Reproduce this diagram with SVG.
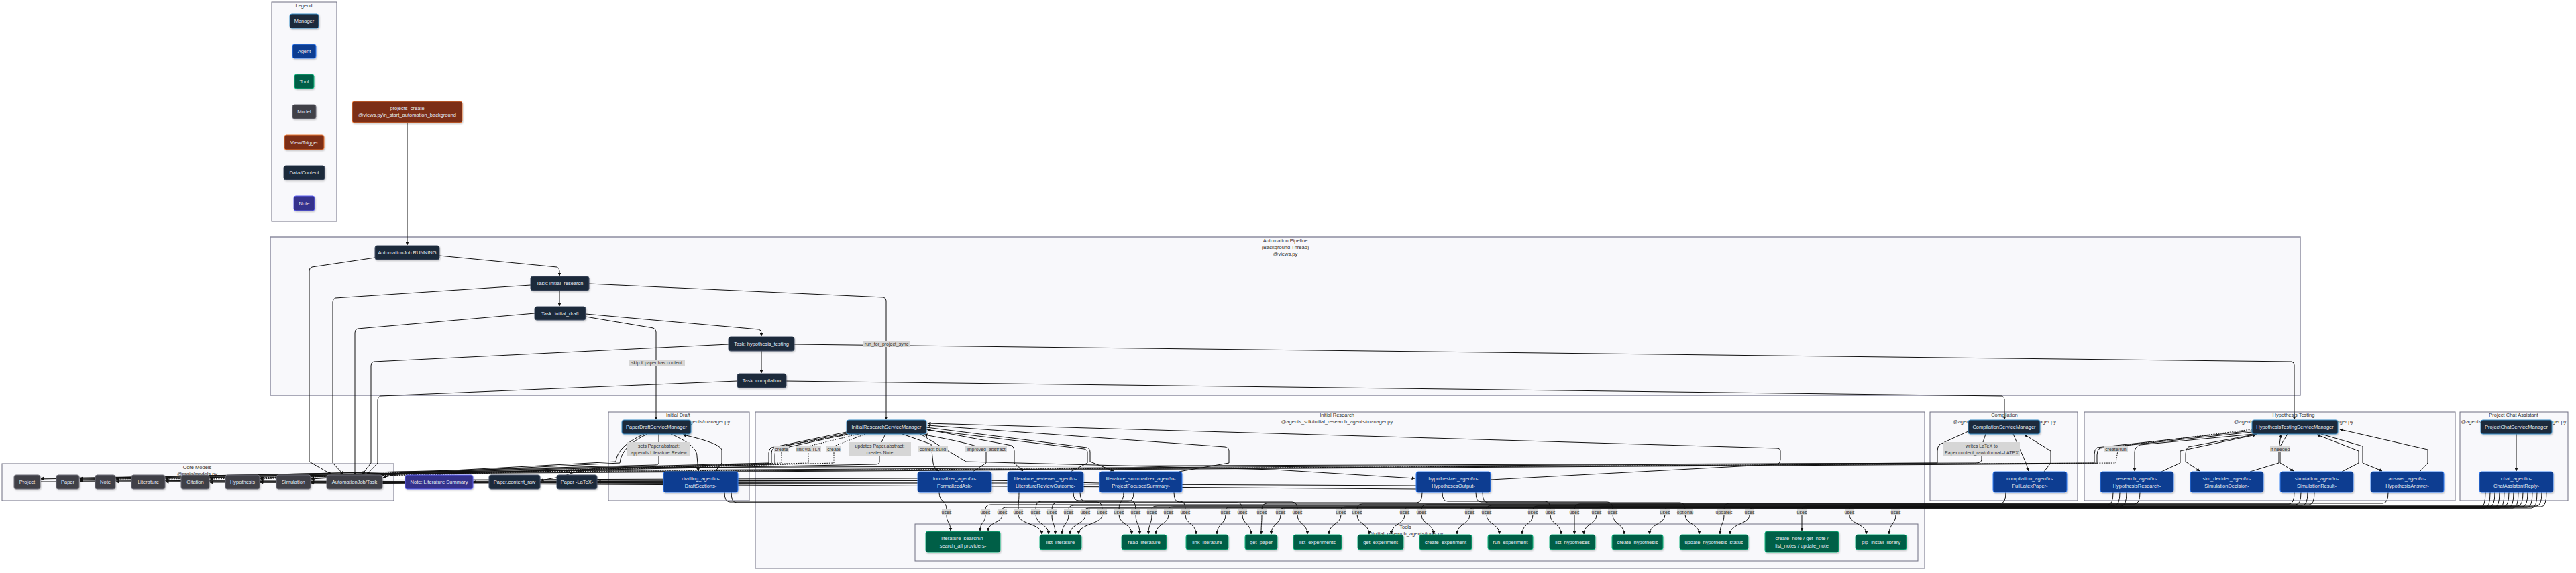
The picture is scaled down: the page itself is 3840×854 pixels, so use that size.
<svg xmlns="http://www.w3.org/2000/svg" width="3840" height="854" viewBox="0 0 3840 854">
<defs>
<marker id="ar" viewBox="0 0 10 10" refX="9" refY="5" markerWidth="5" markerHeight="5" orient="auto"><path d="M0,0L10,5L0,10z" fill="#111"/></marker>
<filter id="sh" x="-10%" y="-20%" width="120%" height="150%"><feDropShadow dx="1" dy="1.5" stdDeviation="1" flood-color="#000" flood-opacity="0.22"/></filter>
<style>
text{font-family:"Liberation Sans",Arial,sans-serif}
.cl{fill:#f8f8fb;stroke:#6e6e82;stroke-width:1}
.clp{fill:#f8f8fb;stroke:#85859a;stroke-width:1.4}
.ct{font-size:7.5px;fill:#333;text-anchor:middle}
.n rect{rx:3px;ry:3px;stroke-width:1;filter:url(#sh)}
.n text{font-size:7.5px;fill:#e6ebf2;text-anchor:middle;dominant-baseline:central}
.mgr rect{fill:#1e293b;stroke:#3b8ec8}
.agt rect{fill:#0f3d91;stroke:#3b82f6}
.tool rect{fill:#065f46;stroke:#10b981}
.mdl rect{fill:#3f3f46;stroke:#71717a}
.view rect{fill:#7c2d12;stroke:#ea7a3a}
.data rect{fill:#1e293b;stroke:#475569}
.note rect{fill:#35308c;stroke:#6366f1}
.e{fill:none;stroke:#111;stroke-width:1}
.a{marker-end:url(#ar)}
.d{stroke-dasharray:2 1.5}
.el rect{fill:#d6d6d6}
.el text{font-size:7px;fill:#333;text-anchor:middle;dominant-baseline:central}
</style>
</defs>
<rect width="3840" height="854" fill="#ffffff"/>

<g id="clusters">
<rect class="cl" x="405" y="3" width="97" height="327"/>
<text class="ct" x="453" y="11">Legend</text>
<rect class="clp" x="403" y="353" width="3026" height="236"/>
<text class="ct" x="1916" y="361">Automation Pipeline</text>
<text class="ct" x="1916" y="371">(Background Thread)</text>
<text class="ct" x="1916" y="381">@views.py</text>
<rect class="cl" x="3" y="691" width="584" height="55"/>
<text class="ct" x="294" y="699">Core Models</text>
<text class="ct" x="294" y="709">@main/models.py</text>
<rect class="cl" x="907" y="614" width="210" height="132"/>
<text class="ct" x="1011" y="621">Initial Draft</text>
<text class="ct" x="1011" y="631">@agents_sdk/paper_draft_agents/manager.py</text>
<rect class="cl" x="1126" y="614" width="1743" height="233"/>
<text class="ct" x="1993" y="621">Initial Research</text>
<text class="ct" x="1993" y="631">@agents_sdk/initial_research_agents/manager.py</text>
<rect class="cl" x="1364" y="781" width="1495" height="55"/>
<text class="ct" x="2095" y="788">Tools</text>
<text class="ct" x="2095" y="798">@initial_research_agents/tools.py</text>
<rect class="cl" x="2877" y="614" width="220" height="132"/>
<text class="ct" x="2988" y="621">Compilation</text>
<text class="ct" x="2988" y="631">@agents_sdk/compilation_agents/manager.py</text>
<rect class="cl" x="3107" y="614" width="553" height="132"/>
<text class="ct" x="3419" y="621">Hypothesis Testing</text>
<text class="ct" x="3419" y="631">@agents_sdk/hypothesis_testing_agents/manager.py</text>
<rect class="cl" x="3667" y="614" width="161" height="132"/>
<text class="ct" x="3747" y="621">Project Chat Assistant</text>
<text class="ct" x="3747" y="631">@agents_sdk/project_chat_agents/manager.py</text>
</g>

<g id="connectors">
<!-- pipeline -->
<path class="e a" d="M607,183L607,365"/>
<path class="e a" d="M655,381L830,398Q834,399 834,404L834,411"/>
<path class="e a" d="M834,433L834,456"/>
<path class="e a" d="M873,468L1131,491Q1135,492 1135,496L1135,501"/>
<path class="e a" d="M1135,523L1135,556"/>
<path class="e a" d="M559,384L465,398Q461,399 461,404L461,688L494,707"/>
<path class="e a" d="M791,425L500,444Q496,445 496,450L496,690L512,707"/>
<path class="e a" d="M797,467L533,490Q529,491 529,496L529,707"/>
<path class="e a" d="M1086,513L557,539Q553,540 553,545L553,690L540,707"/>
<path class="e a" d="M1099,568L567,590Q563,591 563,596L563,690L547,707"/>
<path class="e a" d="M873,472L974,489Q978,491 978,495L978,625"/>
<path class="e a" d="M878,423L1317,443Q1321,444 1321,448L1321,625"/>
<path class="e a" d="M1184,513L3416,539Q3420,540 3420,544L3420,625"/>
<path class="e a" d="M1172,568L2984,590Q2988,591 2988,595L2988,625"/>
<!-- core model chain -->
<path class="e" d="M84,718L61,718"/>
<path class="e" d="M142,718L119,718"/>
<path class="e a" d="M196,718L173,718"/>
<path class="e a" d="M270,718L247,718"/>
<path class="e" d="M336,718L313,718"/>
<path class="e a" d="M412,718L388,718"/>
<path class="e a" d="M487,718L464,718"/>
<!-- managers to models (upper band) -->
<path class="e a" d="M982,647L982,690Q982,693 976,693L600,703L119,713"/>
<path class="e a" d="M960,647Q920,665 918,688L600,705L61,713"/>
<path class="e a" d="M965,647Q926,665 924,690L600,706L247,713"/>
<path class="e a" d="M1262,644L1150,667Q1146,669 1146,675L1146,690L600,704L571,712"/>
<path class="e a" d="M1262,646L1153,668Q1150,670 1150,677L1150,691L600,705L119,714"/>
<path class="e a" d="M1264,647L1158,670Q1155,672 1155,679L1155,692L600,707L388,713"/>
<path class="e a d" d="M1270,647L1165,665L1165,690L600,708L247,714"/>
<path class="e a d" d="M1280,647L1205,665L1205,690L600,708L313,714"/>
<path class="e a d" d="M1290,647L1243,665L1243,690L600,709L173,714"/>
<path class="e a" d="M1320,647L1311,665L1311,688Q1311,692 1305,692L600,706L119,715"/>
<path class="e a" d="M2960,647L2954,665L2954,685Q2954,690 2945,690L900,697Q860,700 840,710L806,716"/>
<path class="e a" d="M2934,643L2892,662Q2888,665 2888,672L2888,690L600,703L61,714"/>
<path class="e a d" d="M3357,640L3158,665L3154,690L600,704L388,714"/>
<path class="e a" d="M3357,642L3126,667Q3122,670 3122,677L3122,690L600,705L464,714"/>
<path class="e a" d="M3357,644L3130,668Q3126,671 3126,678L3126,691L600,706L464,713"/>
<!-- agents to models -->
<path class="e a" d="M989,718L891,718"/>
<path class="e a" d="M1639,720L1480,716L706,718"/>
<path class="e a" d="M1368,713L119,717"/>
<path class="e a" d="M1502,716L247,718"/>
<path class="e a" d="M1502,720L313,719"/>
<path class="e a" d="M2111,724L1700,722L388,719"/>
<path class="e a" d="M2111,729L1700,726L464,720"/>
<!-- initial draft -->
<path class="e a" d="M1000,647C1030,660 1039,670 1039,680L1041,702"/>
<path class="e a" d="M1066,703L1076,690L1076,670Q1072,660 1018,648"/>
<!-- initial research -->
<path class="e a" d="M1345,647L1388,662L1391,690Q1392,697 1400,702"/>
<path class="e a" d="M1450,703L1470,690L1470,672Q1466,664 1378,648"/>
<path class="e a" d="M1381,640L1508,664Q1512,666 1512,672L1512,690L1525,702"/>
<path class="e a" d="M1381,637L1620,667Q1625,668 1625,674L1625,688L1660,702"/>
<path class="e a" d="M1596,703L1621,690L1621,674Q1621,670 1616,669L1383,641"/>
<path class="e a" d="M1757,703L1832,690L1832,672Q1832,667 1826,666L1383,634"/>
<path class="e a" d="M2222,715L2650,692Q2654,690 2654,685L2654,672Q2654,668 2648,668L1383,631"/>
<path class="e a" d="M1372,647L1440,688L1900,700L2109,713"/>
<!-- compilation -->
<path class="e a" d="M3001,647L3020,690L3024,702"/>
<path class="e a" d="M3047,703L3057,690L3057,672L3018,648"/>
<!-- hypothesis testing -->
<path class="e a" d="M3360,647L3190,663Q3182,666 3182,674L3182,702"/>
<path class="e a" d="M3222,703L3250,690L3250,672L3363,648"/>
<path class="e a" d="M3365,647L3262,666Q3258,669 3258,676L3258,688L3279,702"/>
<path class="e a" d="M3354,703L3397,690L3397,670L3400,648"/>
<path class="e a" d="M3410,647L3399,665L3399,690L3419,702"/>
<path class="e a" d="M3491,703L3516,690L3516,672L3454,648"/>
<path class="e a" d="M3460,647L3522,665L3522,690L3551,702"/>
<path class="e a" d="M3607,703L3619,690L3619,670L3488,640"/>
<!-- chat -->
<path class="e a" d="M3751,647L3751,702"/>
<!-- tool usage -->
<path class="e" d="M1400,734C1400,748 1411,746 1411,759"/>
<path class="e a" d="M1411,767C1411,780 1417,778 1417,791"/>
<path class="e" d="M3150,734Q3150,752 3142,752L1477,752Q1469,752 1469,759"/>
<path class="e a" d="M1469,767C1469,780 1461,778 1461,791"/>
<path class="e" d="M3705,734Q3705,756 3697,756L1502,756Q1494,756 1494,759"/>
<path class="e a" d="M1494,767C1494,780 1473,778 1473,791"/>
<path class="e" d="M1519,734C1519,748 1518,746 1518,759"/>
<path class="e a" d="M1518,767C1518,782 1553,780 1553,796"/>
<path class="e" d="M1690,734Q1690,747 1682,747L1552,747Q1544,747 1544,759"/>
<path class="e a" d="M1544,767C1544,782 1563,780 1563,796"/>
<path class="e" d="M2120,734Q2120,749 2112,749L1576,749Q1568,749 1568,759"/>
<path class="e a" d="M1568,767C1568,782 1573,780 1573,796"/>
<path class="e" d="M3160,734Q3160,753 3152,753L1601,753Q1593,753 1593,759"/>
<path class="e a" d="M1593,767C1593,782 1583,780 1583,796"/>
<path class="e" d="M3712,734Q3712,757 3704,757L1626,757Q1618,757 1618,759"/>
<path class="e a" d="M1618,767C1618,782 1595,780 1595,796"/>
<path class="e" d="M1080,734Q1080,748 1088,748L1635,748Q1643,748 1643,759"/>
<path class="e a" d="M1643,767C1643,782 1608,780 1608,796"/>
<path class="e" d="M1675,734C1675,748 1668,746 1668,759"/>
<path class="e a" d="M1668,767C1668,782 1687,780 1687,796"/>
<path class="e" d="M1600,734Q1600,746 1608,746L1685,746Q1693,746 1693,759"/>
<path class="e a" d="M1693,767C1693,782 1699,780 1699,796"/>
<path class="e" d="M3170,734Q3170,754 3162,754L1725,754Q1717,754 1717,759"/>
<path class="e a" d="M1717,767C1717,782 1712,780 1712,796"/>
<path class="e" d="M3719,734Q3719,755 3711,755L1750,755Q1742,755 1742,759"/>
<path class="e a" d="M1742,767C1742,782 1723,780 1723,796"/>
<path class="e" d="M1610,734Q1610,747 1618,747L1759,747Q1767,747 1767,759"/>
<path class="e a" d="M1767,767C1767,782 1783,780 1783,796"/>
<path class="e" d="M3726,734Q3726,756 3718,756L1835,756Q1827,756 1827,759"/>
<path class="e a" d="M1827,767C1827,782 1814,780 1814,796"/>
<path class="e" d="M1090,734Q1090,749 1098,749L1844,749Q1852,749 1852,759"/>
<path class="e a" d="M1852,767C1852,782 1865,780 1865,796"/>
<path class="e" d="M2990,734Q2990,750 2982,750L1889,750Q1881,750 1881,759"/>
<path class="e a" d="M1881,767C1881,782 1880,780 1880,796"/>
<path class="e" d="M3733,734Q3733,757 3725,757L1917,757Q1909,757 1909,759"/>
<path class="e a" d="M1909,767C1909,782 1895,780 1895,796"/>
<path class="e" d="M1750,734Q1750,748 1758,748L1926,748Q1934,748 1934,759"/>
<path class="e a" d="M1934,767C1934,782 1949,780 1949,796"/>
<path class="e" d="M3740,734Q3740,755 3732,755L2007,755Q1999,755 1999,759"/>
<path class="e a" d="M1999,767C1999,782 1981,780 1981,796"/>
<path class="e" d="M3420,734Q3420,751 3412,751L2031,751Q2023,751 2023,759"/>
<path class="e a" d="M2023,767C2023,782 2041,780 2041,796"/>
<path class="e" d="M3747,734Q3747,756 3739,756L2102,756Q2094,756 2094,759"/>
<path class="e a" d="M2094,767C2094,782 2074,780 2074,796"/>
<path class="e" d="M3430,734Q3430,752 3422,752L2127,752Q2119,752 2119,759"/>
<path class="e a" d="M2119,767C2119,782 2137,780 2137,796"/>
<path class="e" d="M3754,734Q3754,757 3746,757L2199,757Q2191,757 2191,759"/>
<path class="e a" d="M2191,767C2191,782 2172,780 2172,796"/>
<path class="e" d="M3440,734Q3440,753 3432,753L2224,753Q2216,753 2216,759"/>
<path class="e a" d="M2216,767C2216,782 2235,780 2235,796"/>
<path class="e" d="M3761,734Q3761,754 3753,754L2293,754Q2285,754 2285,759"/>
<path class="e a" d="M2285,767C2285,782 2269,780 2269,796"/>
<path class="e" d="M2150,734Q2150,747 2158,747L2303,747Q2311,747 2311,759"/>
<path class="e a" d="M2311,767C2311,782 2327,780 2327,796"/>
<path class="e" d="M3190,734Q3190,751 3182,751L2355,751Q2347,751 2347,759"/>
<path class="e a" d="M2347,767L2347,796"/>
<path class="e" d="M3768,734Q3768,755 3760,755L2388,755Q2380,755 2380,759"/>
<path class="e a" d="M2380,767C2380,782 2361,780 2361,796"/>
<path class="e" d="M2200,734Q2200,748 2208,748L2396,748Q2404,748 2404,759"/>
<path class="e a" d="M2404,767C2404,782 2421,780 2421,796"/>
<path class="e" d="M3775,734Q3775,756 3767,756L2490,756Q2482,756 2482,759"/>
<path class="e a" d="M2482,767C2482,782 2459,780 2459,796"/>
<path class="e" d="M2210,734Q2210,749 2218,749L2504,749Q2512,749 2512,759"/>
<path class="e a" d="M2512,767C2512,782 2533,780 2533,796"/>
<path class="e" d="M3560,734Q3560,750 3552,750L2578,750Q2570,750 2570,759"/>
<path class="e a" d="M2570,767C2570,782 2564,780 2564,796"/>
<path class="e" d="M3782,734Q3782,757 3774,757L2616,757Q2608,757 2608,759"/>
<path class="e a" d="M2608,767C2608,782 2579,780 2579,796"/>
<path class="e" d="M3789,734Q3789,754 3781,754L2694,754Q2686,754 2686,759"/>
<path class="e a" d="M2686,767L2686,791"/>
<path class="e" d="M3450,734Q3450,752 3442,752L2765,752Q2757,752 2757,759"/>
<path class="e a" d="M2757,767C2757,782 2782,780 2782,796"/>
<path class="e" d="M3796,734Q3796,755 3788,755L2834,755Q2826,755 2826,759"/>
<path class="e a" d="M2826,767C2826,782 2816,780 2816,796"/>
</g>

<g id="edge-labels">
<g class="el"><rect x="937" y="536" width="84" height="9"/><text x="979" y="540.5">skip if paper has content</text></g>
<g class="el"><rect x="1287" y="508" width="69" height="9"/><text x="1321.5" y="512.5">run_for_project_sync</text></g>
<g class="el"><rect x="935" y="659" width="94" height="20"/><text x="982" y="664.5">sets Paper.abstract;</text><text x="982" y="674">appends Literature Review</text></g>
<g class="el"><rect x="1154" y="665" width="22" height="9"/><text x="1165" y="669.5">create</text></g>
<g class="el"><rect x="1186" y="665" width="38" height="9"/><text x="1205" y="669.5">link via TL4</text></g>
<g class="el"><rect x="1232" y="665" width="22" height="9"/><text x="1243" y="669.5">create</text></g>
<g class="el"><rect x="1265" y="659" width="93" height="20"/><text x="1311.5" y="664.5">updates Paper.abstract;</text><text x="1311.5" y="674">creates Note</text></g>
<g class="el"><rect x="1368" y="665" width="45" height="9"/><text x="1390.5" y="669.5">context build</text></g>
<g class="el"><rect x="1439" y="665" width="62" height="9"/><text x="1470" y="669.5">improved_abstract</text></g>
<g class="el"><rect x="2897" y="659" width="114" height="21"/><text x="2954" y="664.5">writes LaTeX to</text><text x="2954" y="674.5">Paper.content_raw\nformat=LATEX</text></g>
<g class="el"><rect x="3136" y="665" width="36" height="9"/><text x="3154" y="669.5">create/run</text></g>
<g class="el"><rect x="3384" y="665" width="30" height="9"/><text x="3399" y="669.5">if needed</text></g>
<g class="el"><rect x="1404" y="759" width="14" height="8"/><text x="1411" y="763">uses</text></g>
<g class="el"><rect x="1462" y="759" width="14" height="8"/><text x="1469" y="763">uses</text></g>
<g class="el"><rect x="1487" y="759" width="14" height="8"/><text x="1494" y="763">uses</text></g>
<g class="el"><rect x="1511" y="759" width="14" height="8"/><text x="1518" y="763">uses</text></g>
<g class="el"><rect x="1537" y="759" width="14" height="8"/><text x="1544" y="763">uses</text></g>
<g class="el"><rect x="1561" y="759" width="14" height="8"/><text x="1568" y="763">uses</text></g>
<g class="el"><rect x="1586" y="759" width="14" height="8"/><text x="1593" y="763">uses</text></g>
<g class="el"><rect x="1611" y="759" width="14" height="8"/><text x="1618" y="763">uses</text></g>
<g class="el"><rect x="1636" y="759" width="14" height="8"/><text x="1643" y="763">uses</text></g>
<g class="el"><rect x="1661" y="759" width="14" height="8"/><text x="1668" y="763">uses</text></g>
<g class="el"><rect x="1686" y="759" width="14" height="8"/><text x="1693" y="763">uses</text></g>
<g class="el"><rect x="1710" y="759" width="14" height="8"/><text x="1717" y="763">uses</text></g>
<g class="el"><rect x="1735" y="759" width="14" height="8"/><text x="1742" y="763">uses</text></g>
<g class="el"><rect x="1760" y="759" width="14" height="8"/><text x="1767" y="763">uses</text></g>
<g class="el"><rect x="1820" y="759" width="14" height="8"/><text x="1827" y="763">uses</text></g>
<g class="el"><rect x="1845" y="759" width="14" height="8"/><text x="1852" y="763">uses</text></g>
<g class="el"><rect x="1874" y="759" width="14" height="8"/><text x="1881" y="763">uses</text></g>
<g class="el"><rect x="1902" y="759" width="14" height="8"/><text x="1909" y="763">uses</text></g>
<g class="el"><rect x="1927" y="759" width="14" height="8"/><text x="1934" y="763">uses</text></g>
<g class="el"><rect x="1992" y="759" width="14" height="8"/><text x="1999" y="763">uses</text></g>
<g class="el"><rect x="2016" y="759" width="14" height="8"/><text x="2023" y="763">uses</text></g>
<g class="el"><rect x="2087" y="759" width="14" height="8"/><text x="2094" y="763">uses</text></g>
<g class="el"><rect x="2112" y="759" width="14" height="8"/><text x="2119" y="763">uses</text></g>
<g class="el"><rect x="2184" y="759" width="14" height="8"/><text x="2191" y="763">uses</text></g>
<g class="el"><rect x="2209" y="759" width="14" height="8"/><text x="2216" y="763">uses</text></g>
<g class="el"><rect x="2278" y="759" width="14" height="8"/><text x="2285" y="763">uses</text></g>
<g class="el"><rect x="2304" y="759" width="14" height="8"/><text x="2311" y="763">uses</text></g>
<g class="el"><rect x="2340" y="759" width="14" height="8"/><text x="2347" y="763">uses</text></g>
<g class="el"><rect x="2373" y="759" width="14" height="8"/><text x="2380" y="763">uses</text></g>
<g class="el"><rect x="2397" y="759" width="14" height="8"/><text x="2404" y="763">uses</text></g>
<g class="el"><rect x="2475" y="759" width="14" height="8"/><text x="2482" y="763">uses</text></g>
<g class="el"><rect x="2500" y="759" width="24" height="8"/><text x="2512" y="763">optional</text></g>
<g class="el"><rect x="2559" y="759" width="22" height="8"/><text x="2570" y="763">updates</text></g>
<g class="el"><rect x="2601" y="759" width="14" height="8"/><text x="2608" y="763">uses</text></g>
<g class="el"><rect x="2679" y="759" width="14" height="8"/><text x="2686" y="763">uses</text></g>
<g class="el"><rect x="2750" y="759" width="14" height="8"/><text x="2757" y="763">uses</text></g>
<g class="el"><rect x="2819" y="759" width="14" height="8"/><text x="2826" y="763">uses</text></g>
</g>

<g id="legend-nodes">
<g id="lg-manager" class="n mgr"><rect x="432" y="21" width="43" height="21"/><text x="453.5" y="31.5">Manager</text></g>
<g id="lg-agent" class="n agt"><rect x="436" y="66" width="35" height="21"/><text x="453.5" y="76.5">Agent</text></g>
<g id="lg-tool" class="n tool"><rect x="439" y="111" width="29" height="21"/><text x="453.5" y="121.5">Tool</text></g>
<g id="lg-model" class="n mdl"><rect x="436" y="156" width="35" height="21"/><text x="453.5" y="166.5">Model</text></g>
<g id="lg-view" class="n view"><rect x="424" y="201" width="59" height="22"/><text x="453.5" y="212">View/Trigger</text></g>
<g id="lg-data" class="n data"><rect x="423" y="247" width="61" height="21"/><text x="453.5" y="257.5">Data/Content</text></g>
<g id="lg-note" class="n note"><rect x="438" y="292" width="31" height="22"/><text x="453.5" y="303">Note</text></g>
</g>

<g id="projects_create" class="n view"><rect x="525" y="151" width="164" height="32"/><text x="607" y="161.5">projects_create</text><text x="607" y="171.5">@views.py\n_start_automation_background</text></g>

<g id="pipeline-nodes">
<g id="job_running" class="n data"><rect x="559" y="366" width="96" height="21"/><text x="607" y="376.5">AutomationJob RUNNING</text></g>
<g id="task_initial_research" class="n data"><rect x="791" y="412" width="87" height="21"/><text x="834.5" y="422.5">Task: initial_research</text></g>
<g id="task_initial_draft" class="n data"><rect x="797" y="457" width="76" height="20"/><text x="835" y="467">Task: initial_draft</text></g>
<g id="task_hypothesis_testing" class="n data"><rect x="1086" y="502" width="98" height="21"/><text x="1135" y="512.5">Task: hypothesis_testing</text></g>
<g id="task_compilation" class="n data"><rect x="1099" y="557" width="73" height="21"/><text x="1135.5" y="567.5">Task: compilation</text></g>
</g>

<g id="model-nodes">
<g id="m_project" class="n mdl"><rect x="21" y="708" width="39" height="21"/><text x="40.5" y="718.5">Project</text></g>
<g id="m_paper" class="n mdl"><rect x="84" y="708" width="34" height="21"/><text x="101" y="718.5">Paper</text></g>
<g id="m_note" class="n mdl"><rect x="142" y="708" width="30" height="21"/><text x="157" y="718.5">Note</text></g>
<g id="m_literature" class="n mdl"><rect x="196" y="708" width="50" height="21"/><text x="221" y="718.5">Literature</text></g>
<g id="m_citation" class="n mdl"><rect x="270" y="708" width="42" height="21"/><text x="291" y="718.5">Citation</text></g>
<g id="m_hypothesis" class="n mdl"><rect x="336" y="708" width="51" height="21"/><text x="361.5" y="718.5">Hypothesis</text></g>
<g id="m_simulation" class="n mdl"><rect x="412" y="708" width="51" height="21"/><text x="437.5" y="718.5">Simulation</text></g>
<g id="m_job" class="n mdl"><rect x="487" y="708" width="83" height="21"/><text x="528.5" y="718.5">AutomationJob/Task</text></g>
<g id="note_lit_summary" class="n note"><rect x="604" y="708" width="101" height="21"/><text x="654.5" y="718.5">Note: Literature Summary</text></g>
<g id="paper_content_raw" class="n data"><rect x="729" y="708" width="76" height="21"/><text x="767" y="718.5">Paper.content_raw</text></g>
<g id="paper_latex" class="n data"><rect x="830" y="708" width="60" height="21"/><text x="860" y="718.5">Paper -LaTeX-</text></g>
</g>

<g id="manager-nodes">
<g id="pdsm" class="n mgr"><rect x="927" y="626" width="103" height="21"/><text x="978.5" y="636.5">PaperDraftServiceManager</text></g>
<g id="irsm" class="n mgr"><rect x="1262" y="626" width="119" height="21"/><text x="1321.5" y="636.5">InitialResearchServiceManager</text></g>
<g id="csm" class="n mgr"><rect x="2934" y="626" width="107" height="21"/><text x="2987.5" y="636.5">CompilationServiceManager</text></g>
<g id="htsm" class="n mgr"><rect x="3357" y="626" width="128" height="21"/><text x="3421" y="636.5">HypothesisTestingServiceManager</text></g>
<g id="pcsm" class="n mgr"><rect x="3698" y="626" width="106" height="21"/><text x="3751" y="636.5">ProjectChatServiceManager</text></g>
</g>

<g id="agent-nodes">
<g id="drafting_agent" class="n agt"><rect x="989" y="703" width="111" height="31"/><text x="1044.5" y="713.5">drafting_agent\n-</text><text x="1044.5" y="724">DraftSections-</text></g>
<g id="formalizer_agent" class="n agt"><rect x="1368" y="703" width="110" height="31"/><text x="1423" y="713.5">formalizer_agent\n-</text><text x="1423" y="724">FormalizedAsk-</text></g>
<g id="literature_reviewer_agent" class="n agt"><rect x="1502" y="703" width="113" height="31"/><text x="1558.5" y="713.5">literature_reviewer_agent\n-</text><text x="1558.5" y="724">LiteratureReviewOutcome-</text></g>
<g id="literature_summarizer_agent" class="n agt"><rect x="1639" y="703" width="123" height="31"/><text x="1700.5" y="713.5">literature_summarizer_agent\n-</text><text x="1700.5" y="724">ProjectFocusedSummary-</text></g>
<g id="hypothesizer_agent" class="n agt"><rect x="2111" y="703" width="111" height="31"/><text x="2166.5" y="713.5">hypothesizer_agent\n-</text><text x="2166.5" y="724">HypothesesOutput-</text></g>
<g id="compilation_agent" class="n agt"><rect x="2971" y="703" width="110" height="31"/><text x="3026" y="713.5">compilation_agent\n-</text><text x="3026" y="724">FullLatexPaper-</text></g>
<g id="research_agent" class="n agt"><rect x="3131" y="703" width="109" height="31"/><text x="3185.5" y="713.5">research_agent\n-</text><text x="3185.5" y="724">HypothesisResearch-</text></g>
<g id="sim_decider_agent" class="n agt"><rect x="3265" y="703" width="109" height="31"/><text x="3319.5" y="713.5">sim_decider_agent\n-</text><text x="3319.5" y="724">SimulationDecision-</text></g>
<g id="simulation_agent" class="n agt"><rect x="3399" y="703" width="109" height="31"/><text x="3453.5" y="713.5">simulation_agent\n-</text><text x="3453.5" y="724">SimulationResult-</text></g>
<g id="answer_agent" class="n agt"><rect x="3534" y="703" width="109" height="31"/><text x="3588.5" y="713.5">answer_agent\n-</text><text x="3588.5" y="724">HypothesisAnswer-</text></g>
<g id="chat_agent" class="n agt"><rect x="3696" y="703" width="110" height="31"/><text x="3751" y="713.5">chat_agent\n-</text><text x="3751" y="724">ChatAssistantReply-</text></g>
</g>

<g id="tool-nodes">
<g id="t_literature_search" class="n tool"><rect x="1380" y="792" width="111" height="31"/><text x="1435.5" y="802.5">literature_search\n-</text><text x="1435.5" y="813">search_all providers-</text></g>
<g id="t_list_literature" class="n tool"><rect x="1550" y="797" width="62" height="22"/><text x="1581" y="808">list_literature</text></g>
<g id="t_read_literature" class="n tool"><rect x="1672" y="797" width="67" height="22"/><text x="1705.5" y="808">read_literature</text></g>
<g id="t_link_literature" class="n tool"><rect x="1768" y="797" width="63" height="22"/><text x="1799.5" y="808">link_literature</text></g>
<g id="t_get_paper" class="n tool"><rect x="1856" y="797" width="48" height="22"/><text x="1880" y="808">get_paper</text></g>
<g id="t_list_experiments" class="n tool"><rect x="1928" y="797" width="72" height="22"/><text x="1964" y="808">list_experiments</text></g>
<g id="t_get_experiment" class="n tool"><rect x="2024" y="797" width="68" height="22"/><text x="2058" y="808">get_experiment</text></g>
<g id="t_create_experiment" class="n tool"><rect x="2116" y="797" width="78" height="22"/><text x="2155" y="808">create_experiment</text></g>
<g id="t_run_experiment" class="n tool"><rect x="2218" y="797" width="67" height="22"/><text x="2251.5" y="808">run_experiment</text></g>
<g id="t_list_hypotheses" class="n tool"><rect x="2310" y="797" width="68" height="22"/><text x="2344" y="808">list_hypotheses</text></g>
<g id="t_create_hypothesis" class="n tool"><rect x="2403" y="797" width="76" height="22"/><text x="2441" y="808">create_hypothesis</text></g>
<g id="t_update_hypothesis_status" class="n tool"><rect x="2504" y="797" width="102" height="22"/><text x="2555" y="808">update_hypothesis_status</text></g>
<g id="t_notes" class="n tool"><rect x="2631" y="792" width="110" height="31"/><text x="2686" y="802.5">create_note / get_note /</text><text x="2686" y="813">list_notes / update_note</text></g>
<g id="t_pip_install_library" class="n tool"><rect x="2766" y="797" width="76" height="22"/><text x="2804" y="808">pip_install_library</text></g>
</g>
</svg>
